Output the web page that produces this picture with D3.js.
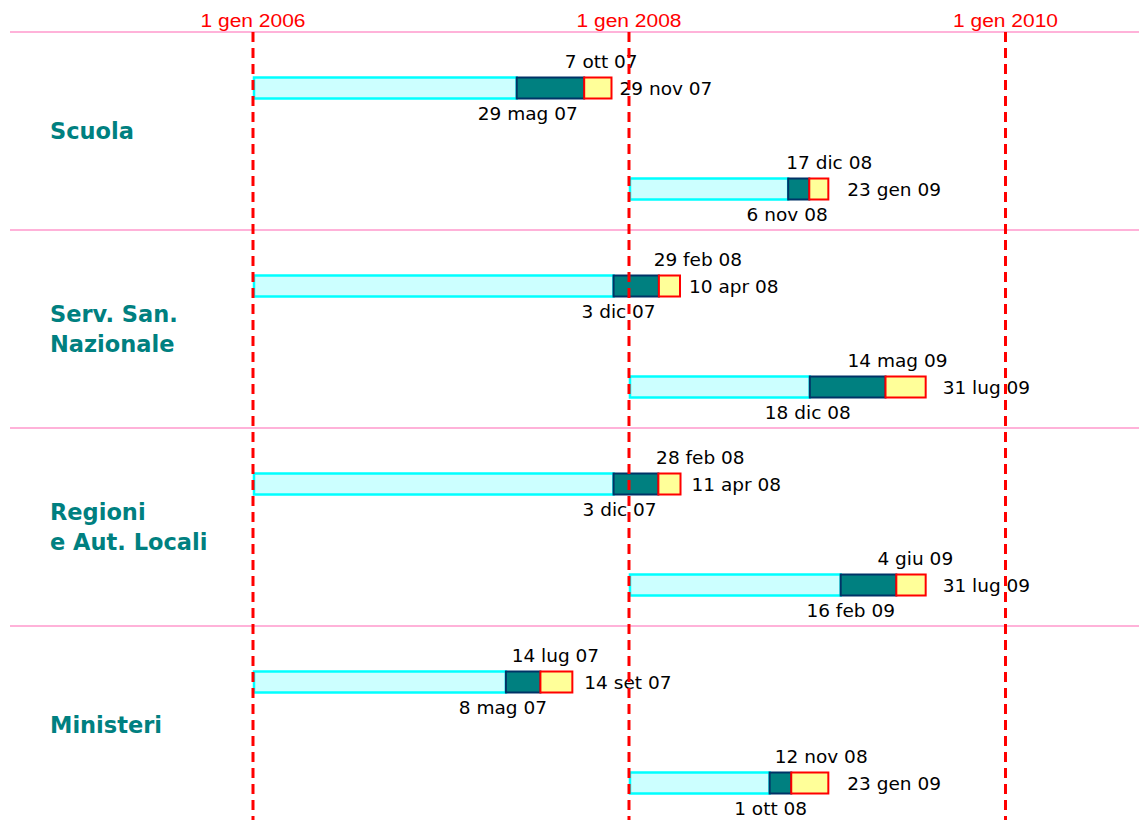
<!DOCTYPE html>
<html>
<head>
<meta charset="utf-8">
<script src="https://cdn.jsdelivr.net/npm/d3@7"></script>
<style>
  html, body { margin: 0; padding: 0; background: #ffffff; }
  svg { display: block; }
</style>
</head>
<body>
<svg id="chart" width="1139" height="820"></svg>
<script>
// Comparti (one band each, two rows per band)
const categories = ["Scuola", "Serv. San. Nazionale", "Regioni e Aut. Locali", "Ministeri"];
const categoryLines = [["Scuola"], ["Serv. San.", "Nazionale"], ["Regioni", "e Aut. Locali"], ["Ministeri"]];

// One entry per bar: compartment, row inside the band, and phase dates
const barCategory = [0, 0, 1, 1, 2, 2, 3, 3];
const barRow      = [0, 1, 0, 1, 0, 1, 0, 1];
const startDates  = ["2006-01-01", "2008-01-01", "2006-01-01", "2008-01-01", "2006-01-01", "2008-01-01", "2006-01-01", "2008-01-01"];
const phase1End   = ["2007-05-29", "2008-11-06", "2007-12-03", "2008-12-18", "2007-12-03", "2009-02-16", "2007-05-08", "2008-10-01"];
const phase2End   = ["2007-10-07", "2008-12-17", "2008-02-29", "2009-05-14", "2008-02-28", "2009-06-04", "2007-07-14", "2008-11-12"];
const phase3End   = ["2007-11-29", "2009-01-23", "2008-04-10", "2009-07-31", "2008-04-11", "2009-07-31", "2007-09-14", "2009-01-23"];

// Reference dates shown on the time axis
const tickDates = ["2006-01-01", "2008-01-01", "2010-01-01"];

// Small horizontal nudges for the date labels (pixels)
const topLabelDx    = [17, 20, 39, 12, 42, 19, 15, 30];
const bottomLabelDx = [11, -1, 5, -2, 6, 10, -3, 1];
const rightLabelDx  = [8, 19, 9, 17, 11, 17, 12, 19];

const W = 1139, H = 820;
const parse = d3.timeParse("%Y-%m-%d");

const it = d3.timeFormatLocale({
  dateTime: "%A %e %B %Y, %X", date: "%d/%m/%Y", time: "%H:%M:%S",
  periods: ["AM", "PM"],
  days: ["domenica", "lunedì", "martedì", "mercoledì", "giovedì", "venerdì", "sabato"],
  shortDays: ["dom", "lun", "mar", "mer", "gio", "ven", "sab"],
  months: ["gennaio", "febbraio", "marzo", "aprile", "maggio", "giugno", "luglio", "agosto", "settembre", "ottobre", "novembre", "dicembre"],
  shortMonths: ["gen", "feb", "mar", "apr", "mag", "giu", "lug", "ago", "set", "ott", "nov", "dic"]
});
const fmtShort = it.format("%-d %b %y");
const fmtTick = it.format("%-d %b %Y");

const x = d3.scaleTime()
  .domain([parse("2006-01-01"), parse("2010-01-01")])
  .range([252.5, 1005]);

const yBand = d3.scaleBand()
  .domain(categories)
  .range([32, 32 + 4 * 198]);

const yRow = d3.scalePoint()
  .domain([0, 1])
  .range([56, 157]);

const barH = 21;

const bars = barCategory.map((c, i) => ({
  cat: categories[c],
  row: barRow[i],
  start: parse(startDates[i]),
  p1: parse(phase1End[i]),
  p2: parse(phase2End[i]),
  p3: parse(phase3End[i]),
  dTop: topLabelDx[i],
  dBottom: bottomLabelDx[i],
  dRight: rightLabelDx[i]
}));
bars.forEach(b => { b.cy = yBand(b.cat) + yRow(b.row); });

const svg = d3.select("#chart");

// Band separators
svg.append("g")
  .selectAll("line")
  .data(categories)
  .join("line")
  .attr("x1", 10).attr("x2", W)
  .attr("y1", d => yBand(d)).attr("y2", d => yBand(d))
  .attr("stroke", "#ff99cc")
  .attr("stroke-width", 1.5);

// Compartment names
svg.append("g")
  .selectAll("text")
  .data(categories)
  .join("text")
  .attr("x", 50)
  .attr("y", (d, i) => yBand(d) + yBand.bandwidth() / 2 - (categoryLines[i].length - 1) * 15)
  .attr("font-family", "'DejaVu Sans', Verdana, sans-serif")
  .attr("font-weight", "bold")
  .attr("font-size", 22.5)
  .attr("fill", "#008080")
  .attr("dominant-baseline", "central")
  .each(function (d, i) {
    const t = d3.select(this);
    categoryLines[i].forEach((line, k) => {
      t.append("tspan").attr("x", 50).attr("dy", k === 0 ? 0 : 30).text(line);
    });
  });

// Phase segments
const segs = [
  { from: "start", to: "p1", fill: "#ccffff", stroke: "#00ffff", sw: 2.5 },
  { from: "p1", to: "p2", fill: "#008080", stroke: "#003366", sw: 2 },
  { from: "p2", to: "p3", fill: "#ffff99", stroke: "#ff0000", sw: 2 }
];
const gBars = svg.append("g");
segs.forEach(s => {
  gBars.append("g")
    .selectAll("rect")
    .data(bars)
    .join("rect")
    .attr("x", d => x(d[s.from]) + (s.from === "start" ? 1.5 : 0))
    .attr("y", d => d.cy - barH / 2)
    .attr("width", d => x(d[s.to]) - x(d[s.from]) - (s.from === "start" ? 1.5 : 0))
    .attr("height", barH)
    .attr("fill", s.fill)
    .attr("stroke", s.stroke)
    .attr("stroke-width", s.sw);
});

// Date labels
const lab = svg.append("g")
  .attr("font-family", "'DejaVu Sans', Verdana, sans-serif")
  .attr("font-size", 18.5)
  .attr("fill", "#000000");

lab.selectAll("text.top")
  .data(bars)
  .join("text")
  .attr("class", "top")
  .attr("x", d => x(d.p2) + d.dTop)
  .attr("y", d => d.cy - 26.5)
  .attr("text-anchor", "middle")
  .attr("dominant-baseline", "central")
  .text(d => fmtShort(d.p2));

lab.selectAll("text.bottom")
  .data(bars)
  .join("text")
  .attr("class", "bottom")
  .attr("x", d => x(d.p1) + d.dBottom)
  .attr("y", d => d.cy + 25)
  .attr("text-anchor", "middle")
  .attr("dominant-baseline", "central")
  .text(d => fmtShort(d.p1));

lab.selectAll("text.right")
  .data(bars)
  .join("text")
  .attr("class", "right")
  .attr("x", d => x(d.p3) + d.dRight)
  .attr("y", d => d.cy)
  .attr("text-anchor", "start")
  .attr("dominant-baseline", "central")
  .text(d => fmtShort(d.p3));

// Time axis with dashed reference lines through the whole chart
const axis = d3.axisTop(x)
  .tickValues(tickDates.map(parse))
  .tickFormat(fmtTick)
  .tickSizeInner(-(H - 32))
  .tickSizeOuter(0)
  .tickPadding(5);

const gAxis = svg.append("g")
  .attr("transform", "translate(0,32)")
  .call(axis);
gAxis.select(".domain").remove();
gAxis.selectAll(".tick line")
  .attr("stroke", "#ff0000")
  .attr("stroke-width", 3)
  .attr("stroke-dasharray", "10,6");
gAxis.selectAll(".tick text")
  .attr("fill", "#ff0000")
  .attr("font-family", "'Liberation Sans', Arial, sans-serif")
  .attr("font-size", 18)
  .attr("textLength", 105)
  .attr("lengthAdjust", "spacingAndGlyphs");
</script>
</body>
</html>
